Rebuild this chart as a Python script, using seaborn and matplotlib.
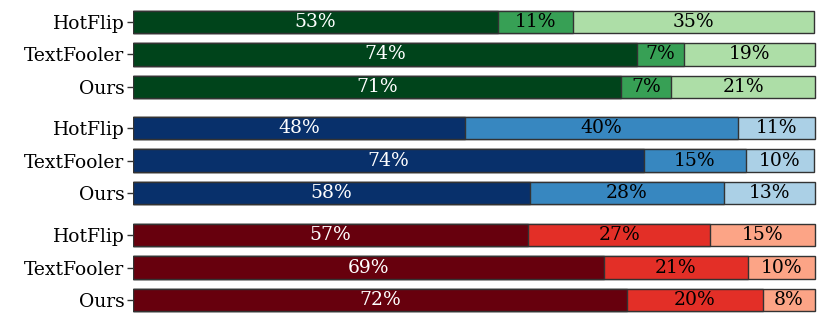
import numpy as np
import pandas as pd
import matplotlib
matplotlib.use('Agg')
import matplotlib.pyplot as plt
import seaborn as sns

sns.set_style('white')
plt.rcParams['font.family'] = ['DejaVu Serif']

methods = ['HotFlip', 'TextFooler', 'Ours']

# shares (percent), three panels top to bottom
green_vals = [[53.6, 11.0, 35.3], [74.0, 6.8, 19.2], [71.6, 7.4, 21.1]]
blue_vals = [[48.7, 40.0, 11.3], [74.9, 15.0, 10.0], [58.2, 28.5, 13.3]]
red_vals = [[58.0, 26.7, 15.3], [69.1, 21.1, 9.8], [72.5, 19.9, 7.6]]

green_labels = [['53%', '11%', '35%'], ['74%', '7%', '19%'], ['71%', '7%', '21%']]
blue_labels = [['48%', '40%', '11%'], ['74%', '15%', '10%'], ['58%', '28%', '13%']]
red_labels = [['57%', '27%', '15%'], ['69%', '21%', '10%'], ['72%', '20%', '8%']]

green_cols = ['#00441b', '#37a055', '#addea7']
blue_cols = ['#08306b', '#3787c0', '#abd0e6']
red_cols = ['#67000d', '#e32f27', '#fca486']

panels = [(green_vals, green_labels, green_cols),
          (blue_vals, blue_labels, blue_cols),
          (red_vals, red_labels, red_cols)]

fig = plt.figure(figsize=(8.3, 3.32), dpi=100)
boxes = [(0.689, 0.9827), (0.3697, 0.6634), (0.0474, 0.3411)]
left, right = 0.16, 0.984

for (vals, labels, cols), (b, t) in zip(panels, boxes):
    ax = fig.add_axes([left, b, right - left, t - b])
    arr = np.array(vals)
    cum = arr.cumsum(axis=1)
    df = pd.DataFrame(cum, columns=['c0', 'c1', 'c2'])
    df['method'] = methods
    # draw from the longest stack down so the shorter ones sit on top
    for k in [2, 1, 0]:
        sns.barplot(data=df, x='c%d' % k, y='method', order=methods, orient='h',
                    color=cols[k], saturation=1, width=0.7, errorbar=None,
                    edgecolor='#333333', linewidth=1, ax=ax)
    for i in range(3):
        starts = np.concatenate([[0], cum[i][:-1]])
        for k in range(3):
            ax.text(starts[k] + arr[i][k] / 2, i, labels[i][k], ha='center', va='center',
                    fontsize=13.5, color='white' if k == 0 else 'black')
    ax.set_xlim(0, 100.3)
    ax.set_ylim(2.5, -0.5)
    ax.set_xlabel('')
    ax.set_ylabel('')
    ax.set_xticks([])
    ax.tick_params(axis='y', labelsize=13.5, labelcolor='black', length=4, width=1,
                   color='#333333', left=True, pad=2)
    sns.despine(ax=ax, left=True, bottom=True)

plt.savefig('out.png', dpi=100)
